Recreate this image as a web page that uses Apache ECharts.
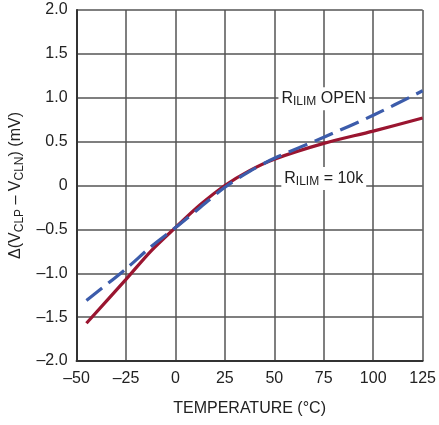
<!DOCTYPE html>
<html><head><meta charset="utf-8">
<script src="https://cdn.jsdelivr.net/npm/echarts@6/dist/echarts.min.js"></script>
<style>html,body{margin:0;padding:0;background:#fff}#c{width:439px;height:425px}</style>
</head><body><div id="c"></div>
<script>
var temps = [-45, -25, -12.5, 0, 12.5, 25, 37.5, 50, 75, 100, 125];
var rOpen = [-1.31, -0.95, -0.70, -0.48, -0.25, -0.02, 0.16, 0.31, 0.55, 0.80, 1.08];
var r10k  = [-1.57, -1.07, -0.75, -0.48, -0.22, 0.00, 0.17, 0.30, 0.48, 0.62, 0.77];
var xTicks = [-50, -25, 0, 25, 50, 75, 100, 125];
var yTicks = [-2.0, -1.5, -1.0, -0.5, 0, 0.5, 1.0, 1.5, 2.0];

function hasFont(name) {
  var c = document.createElement('canvas').getContext('2d');
  var s = 'TEMPERATURE 0123456789';
  c.font = '20px monospace'; var a = c.measureText(s).width;
  c.font = "20px '" + name + "', monospace"; var b = c.measureText(s).width;
  return Math.abs(a - b) > 0.5;
}
var narrow = hasFont('Liberation Sans Narrow');
var FONT = narrow ? "'Liberation Sans Narrow', sans-serif" : "'Liberation Sans', sans-serif";
var FS = narrow ? 18 : 16;
var SS = narrow ? 13 : 12;
var TXT = '#222';
function zip(a, b) { return a.map(function (v, i) { return [v, b[i]]; }); }
function fmtY(v) { if (Math.abs(v) < 1e-9) return '0'; return v.toFixed(1).replace('-', '\u2013'); }
function fmtX(v) { return String(v).replace('-', '\u2013'); }

var chart = echarts.init(document.getElementById('c'), null, {renderer: 'canvas'});
var rich = {
  n: {fontFamily: FONT, fontSize: FS, color: TXT},
  s: {fontFamily: FONT, fontSize: SS, color: TXT, padding: [7, 0, 0, 0]}
};
chart.setOption({
  animation: false,
  grid: {left: 75, top: 10, right: 12, bottom: 64},
  xAxis: {
    type: 'value', min: -50, max: 125, interval: 25,
    name: 'TEMPERATURE (°C)', nameLocation: 'middle', nameGap: 40,
    nameTextStyle: {fontFamily: FONT, fontSize: FS, color: TXT},
    axisLine: {show: true, onZero: false, lineStyle: {color: '#333', width: 2}},
    axisTick: {show: false},
    axisLabel: {fontFamily: FONT, fontSize: FS, color: TXT, margin: 10, formatter: fmtX},
    splitLine: {show: true, lineStyle: {color: '#555', width: 1.5}}
  },
  yAxis: {
    type: 'value', min: -2, max: 2, interval: 0.5,
    name: '{n|\u0394(V}{s|CLP}{n| \u2013 V}{s|CLN}{n|) (mV)}',
    nameLocation: 'middle', nameGap: 49, nameRotate: 90,
    nameTextStyle: {rich: rich},
    axisLine: {show: true, onZero: false, lineStyle: {color: '#333', width: 2}},
    axisTick: {show: false},
    axisLabel: {fontFamily: FONT, fontSize: FS, color: TXT, margin: 9, formatter: fmtY},
    splitLine: {show: true, lineStyle: {color: '#555', width: 1.5}}
  },
  series: [
    {name: 'RILIM = 10k', type: 'line', data: zip(temps, r10k), smooth: 0.3, symbol: 'none',
     lineStyle: {color: '#9a1530', width: 3.2}, z: 3},
    {name: 'RILIM OPEN', type: 'line', data: zip(temps, rOpen), smooth: 0.3, symbol: 'none',
     lineStyle: {color: '#3c5cab', width: 3.2, type: [20, 8]}, z: 4}
  ]
});

function lbl(x, y, sub, rest) {
  var p = chart.convertToPixel({gridIndex: 0}, [x, y]);
  return {
    type: 'text', x: p[0], y: p[1], z: 10,
    style: {
      text: '{n|R}{s|' + sub + '}{n|' + rest + '}',
      align: 'center', verticalAlign: 'middle',
      backgroundColor: '#fff', padding: [2, 3, 2, 3],
      rich: {
        n: {fontFamily: FONT, fontSize: FS, fill: TXT, color: TXT},
        s: {fontFamily: FONT, fontSize: SS, fill: TXT, color: TXT, padding: [7, 0, 0, 0]}
      }
    }
  };
}
chart.setOption({graphic: [lbl(75, 0.99, 'ILIM', ' OPEN'), lbl(75, 0.08, 'ILIM', ' = 10k')]});
</script></body></html>
